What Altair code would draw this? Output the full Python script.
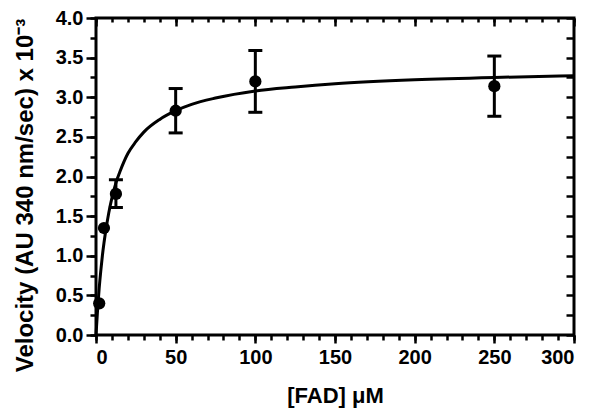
import altair as alt
import pandas as pd

# Measured data
fad_conc = [2, 5, 12.5, 50, 100, 250]
velocity = [0.40, 1.35, 1.78, 2.83, 3.20, 3.14]
err_low = [0.40, 1.35, 1.61, 2.55, 2.81, 2.76]
err_high = [0.40, 1.35, 1.96, 3.11, 3.59, 3.52]
has_err = [False, False, True, True, True, True]

# Fitted curve
curve_x = [0, 1, 2, 3, 4, 5, 6, 8, 10, 12.5, 15, 20, 25, 30, 40, 50, 60, 75,
           100, 125, 150, 200, 250, 300]
curve_y = [0.0, 0.32, 0.59, 0.81, 1.00, 1.16, 1.30, 1.54, 1.73, 1.92, 2.06,
           2.29, 2.44, 2.56, 2.72, 2.83, 2.91, 2.99, 3.08, 3.13, 3.17, 3.22,
           3.25, 3.27]

x_major = [0, 50, 100, 150, 200, 250, 300]
x_minor = list(range(0, 301, 10))
y_major = [0.0, 0.5, 1.0, 1.5, 2.0, 2.5, 3.0, 3.5, 4.0]
y_minor = [i * 0.25 for i in range(17)]

pts = pd.DataFrame({"x": fad_conc, "y": velocity, "lo": err_low, "hi": err_high, "e": has_err})
errs = pts[pts["e"]]
caps = pd.concat([
    pd.DataFrame({"x": errs["x"], "y": errs["lo"]}),
    pd.DataFrame({"x": errs["x"], "y": errs["hi"]}),
])
curve = pd.DataFrame({"x": curve_x, "y": curve_y})

FONT = "Liberation Sans"
xs = alt.Scale(domain=[0, 300], nice=False, zero=False)
ys = alt.Scale(domain=[0, 4], nice=False, zero=False)

common = dict(grid=False, domain=False, tickColor="black", tickWidth=2.5,
              labelFont=FONT, labelFontWeight="bold", labelColor="black",
              titleFont=FONT, titleFontWeight="bold", titleColor="black")

x_main = alt.Axis(orient="bottom", values=x_major, tickSize=8, labelFontSize=20,
                  labelPadding=4, title="[FAD] \u03bcM", titleFontSize=22,
                  titleY=67, titleBaseline="alphabetic", format="d", **common)
y_main = alt.Axis(orient="left", values=y_major, tickSize=10, labelFontSize=20,
                  labelPadding=3, format=".1f",
                  title="Velocity (AU 340 nm/sec) x 10\u207b\u00b3", titleFontSize=24,
                  titleX=-64, titleY=177, titleAngle=-90, titleAlign="center",
                  titleBaseline="alphabetic", **common)
x_minor_ax = alt.Axis(orient="bottom", values=x_minor, tickSize=5, labels=False,
                      title=None, **common)
y_minor_ax = alt.Axis(orient="left", values=y_minor, tickSize=6, labels=False,
                      title=None, **common)
x_top_major = alt.Axis(orient="top", values=x_major, tickSize=8, offset=-8,
                       labels=False, title=None, **common)
y_right = alt.Axis(orient="right", values=y_minor, tickSize=8, offset=-8,
                   labels=False, title=None, **common)
x_top_minor = alt.Axis(orient="top", values=x_minor, tickSize=4, offset=-4,
                       labels=False, title=None, **common)

line = alt.Chart(curve).mark_line(color="black", strokeWidth=3, interpolate="monotone").encode(
    x=alt.X("x:Q", scale=xs, axis=x_main),
    y=alt.Y("y:Q", scale=ys, axis=y_main),
)
rules = alt.Chart(errs).mark_rule(color="black", strokeWidth=3).encode(
    x=alt.X("x:Q", scale=xs, axis=x_minor_ax),
    y=alt.Y("lo:Q", scale=ys, axis=y_minor_ax),
    y2="hi:Q",
)
capm = alt.Chart(caps).mark_tick(color="black", thickness=3, size=14, orient="horizontal",
                                 opacity=1).encode(
    x=alt.X("x:Q", scale=xs, axis=x_top_major),
    y=alt.Y("y:Q", scale=ys, axis=y_right),
)
points = alt.Chart(pts).mark_point(filled=True, shape="circle", size=150, color="black", opacity=1).encode(
    x=alt.X("x:Q", scale=xs, axis=x_top_minor),
    y=alt.Y("y:Q", scale=ys, axis=None),
)

chart = alt.layer(line, rules, capm, points).resolve_axis(
    x="independent", y="independent"
).properties(
    width=478, height=317,
    autosize=alt.AutoSizeParams(type="none"),
    padding={"left": 88, "top": 10, "right": 18, "bottom": 78},
    background="white",
).configure_view(stroke="black", strokeWidth=3)

chart.save("out.html", embed_options={"renderer": "svg", "actions": False})
